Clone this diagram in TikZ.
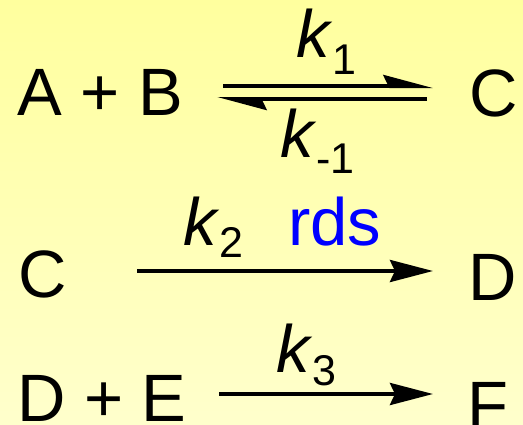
\documentclass[tikz,border=0pt]{standalone}
\usepackage{fontspec}
\setmainfont{Liberation Sans}
\usetikzlibrary{arrows.meta}
\definecolor{bgtop}{RGB}{255,255,158}
\definecolor{bgbot}{RGB}{255,255,204}
\definecolor{rdsblue}{RGB}{0,0,255}
\newcommand{\rate}[2][15]{\textit{k}\raisebox{-#1pt}{\fontsize{43}{43}\selectfont #2}}

\begin{document}
\begin{tikzpicture}[x=1pt,y=-1pt,
  species/.style={anchor=base west,inner sep=0pt,font=\fontsize{67}{80}\selectfont},
  rxn/.style={line width=4pt,-{Stealth[length=43pt,width=22pt,inset=5pt]}},
  half/.style={line width=4pt,-{Stealth[harpoon,length=42pt,width=22pt,inset=5pt]}}]
  \useasboundingbox (0,0) rectangle (523,424);
  \shade[top color=bgtop,bottom color=bgbot] (0,0) rectangle (523,424);
  % species
  \node[species] (ab) at (17,115) {A + B};
  \node[species] (c1) at (469,116) {C};
  \node[species] (c2) at (18,297) {C};
  \node[species] (d2) at (468,300) {D};
  \node[species] (de) at (17,421) {D + E};
  \node[species] (f) at (467,428) {F};
  % rate constants
  \node[species] (k1) at (296,57) {\rate[17]{1}};
  \node[species] (km1) at (280,157) {\rate[16]{-1}};
  \node[species] (k2) at (183,245) {\rate[12]{2}};
  \node[species,text=rdsblue] (rds) at (288,245) {rds};
  \node[species] (k3) at (276,372) {\rate[13]{3}};
  % arrow ends
  \coordinate (fwd1) at (223,86);
  \coordinate (fwd2) at (433,86);
  \coordinate (rev1) at (427,99);
  \coordinate (rev2) at (217,99);
  \coordinate (step1) at (137,271);
  \coordinate (step2) at (433,271);
  \coordinate (fast1) at (219,394);
  \coordinate (fast2) at (433,394);
  \draw[half] (fwd1) -- (fwd2);
  \draw[half] (rev1) -- (rev2);
  \draw[rxn] (step1) -- (step2);
  \draw[rxn] (fast1) -- (fast2);
\end{tikzpicture}
\end{document}
